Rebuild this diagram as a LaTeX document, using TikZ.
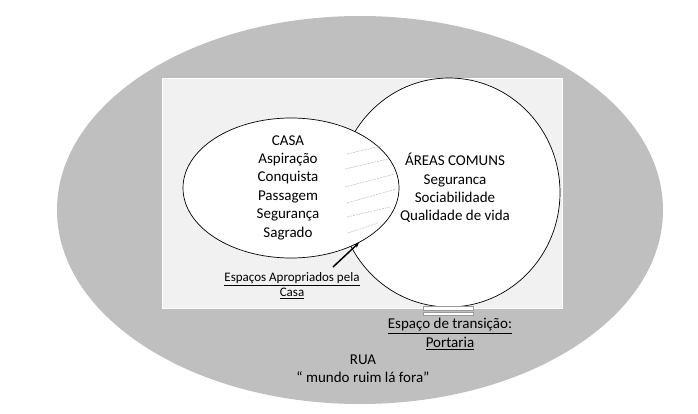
\documentclass[tikz,border=0pt]{standalone}
\usepackage{fontspec}
\setmainfont{Carlito}
\usetikzlibrary{shapes.geometric,arrows.meta}
\definecolor{ruagray}{HTML}{BFBFBF}
\definecolor{lotefill}{HTML}{F1F1F1}
\definecolor{hatchgray}{HTML}{C4C4C4}
\definecolor{barline}{HTML}{9A9A9A}
\begin{document}
\begin{tikzpicture}[x=1pt,y=-1pt,
  bigtxt/.style={font=\fontsize{15}{18.4}\selectfont, align=center, inner sep=0pt, text=black},
  smalltxt/.style={font=\fontsize{13}{15}\selectfont, align=center, inner sep=0pt, text=black},
  shapeline/.style={draw=black, line width=0.7pt, fill=white},
  hatchline/.style={draw=hatchgray, line width=0.6pt, dash pattern=on 2pt off 1pt},
  bar/.style={draw=barline, fill=white, line width=0.5pt, inner sep=0pt, minimum width=50pt, minimum height=3.4pt}]
\fill[white] (0,0) rectangle (698,414);
\useasboundingbox (0,0) rectangle (698,414);
% street
\node[ellipse, fill=ruagray, minimum width=606pt, minimum height=388pt, inner sep=0pt] (rua) at (360,210) {};
% plot
\node[draw=white, line width=0.8pt, fill=lotefill, minimum width=400pt, minimum height=230pt, inner sep=0pt] (lote) at (362,193) {};
% common areas
\node[ellipse, shapeline, minimum width=222pt, minimum height=229pt, inner sep=0pt] (areas) at (449,192.5) {};
% house
\node[ellipse, shapeline, minimum width=216pt, minimum height=140pt, inner sep=0pt] (casa) at (291,188) {};
% appropriated spaces hatch
\draw[hatchline] (347,154) -- (381,146);
\draw[hatchline] (345,169) -- (388,159);
\draw[hatchline] (345,187) -- (395,174);
\draw[hatchline] (347,203) -- (396,189);
\draw[hatchline] (347,217) -- (390,207);
\draw[hatchline] (348,233) -- (378,223);
% gate
\node[bar] (bar1) at (448,308.4) {};
\node[bar] (bar2) at (448,313.7) {};
% texts
\node[bigtxt] (casatxt) at (288,187.5) {CASA\\Aspiração\\Conquista\\Passagem\\Segurança\\Sagrado};
\node[bigtxt] (areastxt) at (455,188) {ÁREAS COMUNS\\Seguranca\\Sociabilidade\\Qualidade de vida};
\node[smalltxt] (aprop) at (292,285.5) {\underline{Espaços Apropriados pela}\\\underline{Casa}};
\node[bigtxt] (portaria) at (450,334) {\underline{Espaço de transição:}\\\underline{Portaria}};
\node[bigtxt] (ruatxt) at (363,369) {RUA\\“ mundo ruim lá fora”};
% arrow
\coordinate (atail) at (333,267);
\draw[line width=1.5pt, -{Stealth[length=5pt,width=4.5pt]}] (atail) -- (casa.-39);
\end{tikzpicture}
\end{document}
